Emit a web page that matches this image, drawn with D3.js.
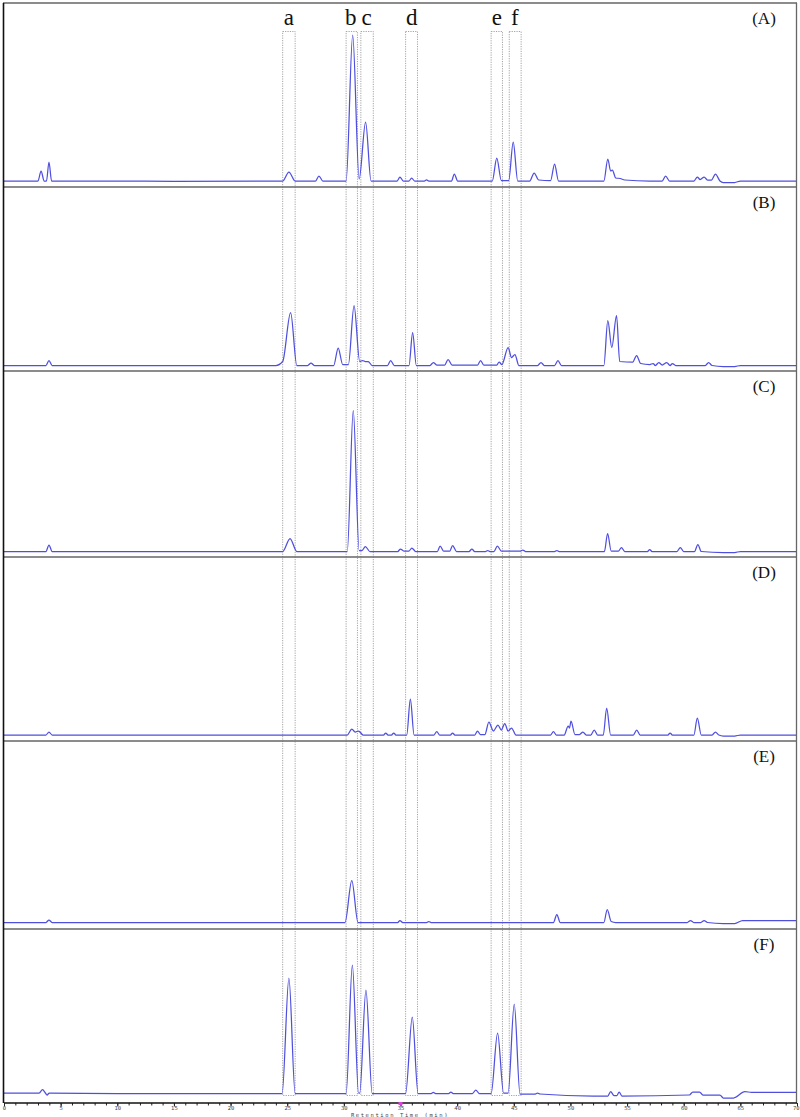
<!DOCTYPE html>
<html>
<head>
<meta charset="utf-8">
<script src="https://cdn.jsdelivr.net/npm/d3@7"></script>
<style>
  body { margin: 0; background: #fff; }
  svg { display: block; }
</style>
</head>
<body>
<script>
// HPLC chromatograms, six samples stacked (A)-(F)

// retention time / intensity vertices [min, height]
var traceA = [[0,0],[3.0,0],[3.27,10],[3.55,0],[3.75,0],[3.97,19],[4.2,0],[10,0],[15,-0.3],[24.6,0],[25.15,9],[25.7,0],
  [27.5,0],[27.8,5],[28.15,0],[30.2,0],[30.78,146],[31.35,2],[31.92,59],[32.4,0],[34.7,0],[34.95,4],[35.25,0],
  [35.75,0],[35.98,3],[36.25,0],[37.1,0],[37.3,1.2],[37.5,0],[39.5,0],[39.75,7],[40.05,0],[43.1,0],[43.5,23],
  [43.9,0.5],[44.55,0.5],[44.95,39],[45.35,0],[46.4,0],[46.8,8],[47.2,1],[48.25,0.5],[48.6,17],[48.95,0],
  [52.95,0],[53.3,22],[53.55,10],[53.7,11],[54.0,3],[54.4,2.5],[54.8,1],[57,0],[58.1,0],[58.4,5],[58.75,0],
  [60.9,0],[61.2,4],[61.45,1.5],[61.8,4],[62.1,1],[62.45,1],[62.8,7],[63.2,0],[63.5,-1.5],[64.5,-1.5],[65,0],[70,0]];

var traceB = [[0,0],[3.7,0],[3.97,5],[4.25,0],[24.0,0],[24.6,4],[25.3,53],[25.85,0],[26.8,0],[27.1,2.5],[27.4,0],
  [29.1,0],[29.5,17.5],[29.9,1],[30.4,1],[30.9,60],[31.4,4],[31.65,5],[31.9,4],[32.15,4],[32.5,0],[33.85,0],
  [34.13,5],[34.45,0],[35.75,0],[36.07,33],[36.4,0],[37.6,0],[37.9,3],[38.2,0.5],[38.9,0.5],[39.2,6],[39.55,0.5],
  [41.8,0.5],[42.07,5],[42.35,0.5],[43.5,0.5],[43.7,3.5],[43.95,1],[44.5,18],[44.8,8],[45.1,11],[45.45,0],
  [47.1,0],[47.4,3],[47.7,0],[48.6,0],[48.9,5],[49.2,0],[52.95,0],[53.3,45],[53.65,18],[54.07,50],[54.35,4],
  [55.5,3.5],[55.84,10],[56.2,2],[57.0,1],[57.3,2],[57.5,0],[57.8,3],[58.1,0.5],[58.5,3],[58.8,0],[59.0,2],
  [59.3,0],[61.9,0],[62.2,3],[62.5,0],[63.5,-1],[64.5,-1],[65,0],[70,0]];

var traceC = [[0,0],[3.7,0],[3.97,6.5],[4.25,0],[24.6,0],[25.25,13],[25.85,0],[30.3,0],[30.83,141],[31.35,1],
  [31.6,1],[31.9,5],[32.3,0],[34.75,0],[35.0,2.5],[35.3,0.5],[35.75,0.5],[36.0,3.5],[36.35,0],[38.25,0],
  [38.5,5.5],[38.8,0.5],[39.35,0.5],[39.6,6],[39.95,0],[41.05,0],[41.3,2.5],[41.55,0],[42.5,0],[42.7,1],
  [42.9,0],[43.25,0],[43.55,5.5],[43.9,0.5],[45.6,0.5],[45.8,1.5],[46.05,0],[48.6,0],[48.8,1],[49,0],
  [53.0,0],[53.28,18],[53.6,0.5],[54.25,0.5],[54.5,4],[54.8,0],[56.8,0],[57.0,2],[57.2,0],[59.4,0],[59.7,4],
  [60,0],[60.95,0],[61.25,7],[61.55,0],[63.5,-1],[64.5,-1],[65,0],[70,0]];

var traceD = [[0,0],[3.7,0],[3.97,3],[4.25,0],[30.3,0],[30.7,6],[31.0,3],[31.3,4],[31.7,0],[33.5,0],[33.7,2],
  [33.9,0],[34.2,0],[34.4,2],[34.6,0],[35.55,0],[35.87,36],[36.2,0],[37.95,0],[38.2,3.5],[38.45,0],[39.4,0],
  [39.6,2],[39.8,0],[41.55,0],[41.8,4],[42.05,0.5],[42.45,0.5],[42.8,13],[43.2,4],[43.6,10],[43.9,5],[44.2,11.5],
  [44.5,4],[44.8,7],[45.2,0],[48.25,0],[48.5,3.5],[48.75,0],[49.45,0],[49.8,9],[49.92,7],[50.05,14],[50.4,0.5],
  [50.8,0.5],[51.1,3],[51.4,0],[51.8,0],[52.1,5],[52.4,0],[52.9,0],[53.2,27],[53.55,0],[55.55,0],[55.85,5],
  [56.15,0],[58.6,0],[58.8,2],[59,0],[60.9,0],[61.2,17],[61.55,0],[62.5,0],[62.8,3],[63.1,0],[63.5,-1],
  [64.5,-1],[65,0],[70,0]];

var traceE = [[0,0],[3.7,0],[3.97,2.5],[4.25,0],[30.1,0],[30.7,42],[31.25,0],[34.75,0],[34.95,2],[35.2,0],
  [37.3,0],[37.5,1],[37.7,0],[48.5,0],[48.8,8],[49.1,0],[52.95,0],[53.25,13],[53.6,1],[54.0,0],[60.3,0],
  [60.6,2],[60.9,0],[61.5,0],[61.8,2],[62.1,0],[63.5,-1],[64.5,-1],[65.2,2],[70,2]];

var traceF = [[0,0],[3.1,0],[3.4,3.3],[3.65,0],[3.8,-2],[4.0,0],[10,-0.5],[24.55,-0.5],[25.15,115],[25.7,-0.5],
  [30.2,-0.5],[30.75,128],[31.3,0],[31.4,0],[31.95,103],[32.5,-0.5],[35.45,-0.5],[36.04,76],[36.55,-0.5],
  [37.7,-0.5],[37.9,0.7],[38.1,-0.5],[39.25,-0.5],[39.45,1],[39.65,-0.5],[41.35,-0.5],[41.65,3],[41.95,-0.5],
  [43.0,-0.5],[43.57,60],[44.1,0],[44.5,0],[45.04,89],[45.55,-1],[46.9,-1],[47.1,0],[47.3,-1],[52,-3],
  [53.3,-3],[53.55,1.3],[53.85,-2.5],[54.1,-2.5],[54.3,1],[54.55,-3],[60.5,-2],[60.8,1],[61.4,1],[61.7,-2],
  [63.2,-2],[63.5,-5],[64.4,-5],[65.4,1.3],[66,0.7],[70,0.7]];

var panelLabels = ["(A)", "(B)", "(C)", "(D)", "(E)", "(F)"];
var traces = [traceA, traceB, traceC, traceD, traceE, traceF];

// marked compounds: label and retention-time window [start, end]
var compounds = ["a", "b", "c", "d", "e", "f"];
var windows = [[24.6, 25.7], [30.2, 31.2], [31.5, 32.6], [35.45, 36.5], [43.0, 44.0], [44.6, 45.65]];
var labelTimes = [25.15, 30.6, 32.0, 36.0, 43.5, 45.1];

var timeTicks = d3.range(0, 71, 5);
var minorTicks = d3.range(0, 71, 1);

var svgWidth = 800;
var svgHeight = 1117;

var svg = d3.select("body")
  .append("svg")
  .attr("width", svgWidth)
  .attr("height", svgHeight);

var x = d3.scaleLinear()
  .domain([0, 70])
  .range([4, 797]);

// panel boxes: top and baseline position of each trace
var panelTop = [3, 187, 371, 557, 741, 929];
var baseY = [181, 365.5, 551.5, 735, 922.5, 1093];

// dotted windows for compounds
svg.selectAll("rect.win")
  .data(windows)
  .enter()
  .append("rect")
  .attr("class", "win")
  .attr("x", d => x(d[0]))
  .attr("y", 31.5)
  .attr("width", d => x(d[1]) - x(d[0]))
  .attr("height", 1064)
  .attr("fill", "none")
  .attr("stroke", "#9a9a9a")
  .attr("stroke-width", 0.9)
  .attr("stroke-dasharray", "1.2,1.2");

svg.selectAll("text.cmp")
  .data(compounds)
  .enter()
  .append("text")
  .attr("class", "cmp")
  .attr("x", (d, i) => x(labelTimes[i]))
  .attr("y", 25)
  .attr("text-anchor", "middle")
  .style("font-family", "Liberation Serif, serif")
  .style("font-size", "23px")
  .attr("fill", "#111")
  .text(d => d);

var line = d3.line().curve(d3.curveMonotoneX);

traces.forEach(function(trace, i) {
  var y = d3.scaleLinear()
    .domain([0, 170])
    .range([baseY[i], baseY[i] - 170]);

  svg.append("path")
    .attr("d", line(trace.map(d => [x(d[0]), y(d[1])])))
    .attr("fill", "none")
    .attr("stroke", "#4f4fdf")
    .attr("stroke-width", 1.25)
    .attr("stroke-linejoin", "round");

  svg.append("text")
    .attr("x", 764)
    .attr("y", panelTop[i] + 21)
    .attr("text-anchor", "middle")
    .style("font-family", "Liberation Serif, serif")
    .style("font-size", "17px")
    .attr("fill", "#111")
    .text(panelLabels[i]);
});

// panel separators and frame
svg.selectAll("line.sep")
  .data(panelTop)
  .enter()
  .append("line")
  .attr("class", "sep")
  .attr("x1", 3)
  .attr("x2", 797)
  .attr("y1", d => d)
  .attr("y2", d => d)
  .attr("stroke", "#666")
  .attr("stroke-width", 1.6);

svg.append("line")
  .attr("x1", 796.5).attr("x2", 796.5)
  .attr("y1", 3).attr("y2", 1103)
  .attr("stroke", "#666")
  .attr("stroke-width", 1.3);

svg.append("line")
  .attr("x1", 3.5).attr("x2", 3.5)
  .attr("y1", 3).attr("y2", 1103)
  .attr("stroke", "#111")
  .attr("stroke-width", 1.6);

// time axis
var minorAxis = d3.axisBottom(x)
  .tickValues(minorTicks)
  .tickSize(2.5)
  .tickFormat("");

svg.append("g")
  .attr("transform", "translate(0,1103)")
  .call(minorAxis)
  .call(g => g.select(".domain").remove())
  .selectAll("line").attr("stroke", "#222");

var bottomAxis = d3.axisBottom(x)
  .tickValues(timeTicks)
  .tickSize(3.5)
  .tickPadding(0)
  .tickFormat(d3.format("d"));

var xAxis = svg.append("g")
  .attr("transform", "translate(0,1103)")
  .call(bottomAxis);

xAxis.select(".domain")
  .attr("d", "M4,0H797")
  .attr("stroke", "#111")
  .attr("stroke-width", 1.3);

xAxis.selectAll("line").attr("stroke", "#222");
xAxis.selectAll("text")
  .style("font-family", "DejaVu Sans Mono, monospace")
  .style("font-size", "5.5px")
  .attr("fill", "#444")
  .attr("text-anchor", d => d === 70 ? "end" : "middle")
  .attr("dx", d => d === 70 ? "2px" : 0);

// injection marker at 35 min
svg.append("rect")
  .attr("x", x(35) - 2)
  .attr("y", 1102)
  .attr("width", 4)
  .attr("height", 3)
  .attr("fill", "#e040e0");

svg.append("text")
  .attr("x", 400)
  .attr("y", 1116.8)
  .attr("text-anchor", "middle")
  .style("font-family", "DejaVu Sans Mono, monospace")
  .style("font-size", "5.5px")
  .style("letter-spacing", "1.6px")
  .attr("fill", "#444")
  .text("Retention Time (min)");
</script>
</body>
</html>
